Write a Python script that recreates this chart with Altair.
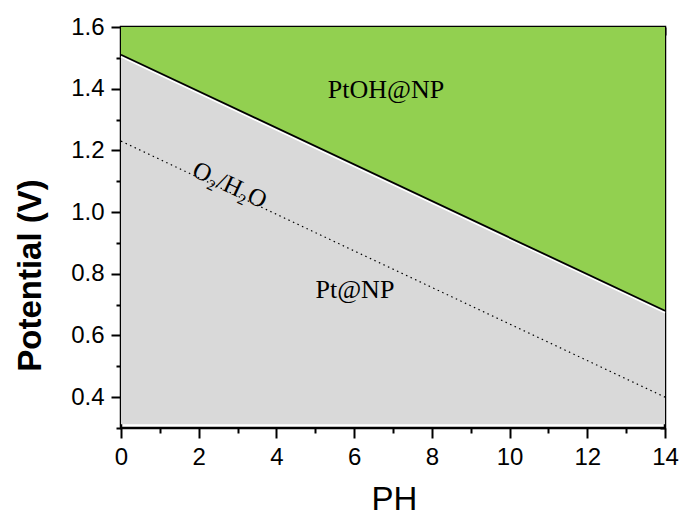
import altair as alt
import pandas as pd

# boundary lines (pH, potential V)
ph = [0, 14]
pt_boundary = [1.51, 0.68]      # PtOH@NP / Pt@NP boundary (solid)
o2_h2o = [1.23, 0.40]           # O2/H2O line (dotted)

labels_txt = ["PtOH@NP", "Pt@NP"]
labels_ph = [6.82, 6.02]
labels_v = [1.37, 0.722]

o2_label = ["O\u2082/H\u2082O"]
o2_ph = [2.8]
o2_v = [1.088]

x_major = [0, 2, 4, 6, 8, 10, 12, 14]
x_minor = [1, 3, 5, 7, 9, 11, 13]
x_all = list(range(0, 15))
y_major = [0.4, 0.6, 0.8, 1.0, 1.2, 1.4, 1.6]
y_minor = [0.3, 0.5, 0.7, 0.9, 1.1, 1.3, 1.5]

Y_MIN, Y_MAX = 0.3, 1.6

df = pd.DataFrame({"ph": ph, "pt": pt_boundary, "o2": o2_h2o,
                   "bottom": [0.312, 0.312], "top": [Y_MAX, Y_MAX]})
df_lab = pd.DataFrame({"t": labels_txt, "ph": labels_ph, "v": labels_v})
df_o2 = pd.DataFrame({"t": o2_label, "ph": o2_ph, "v": o2_v})

xs = alt.Scale(domain=[0, 14], nice=False, zero=False)
ys = alt.Scale(domain=[Y_MIN, Y_MAX], nice=False, zero=False)

def X(field="ph", axis=None):
    return alt.X(f"{field}:Q", scale=xs, axis=axis)

def Y(field, axis=None):
    return alt.Y(f"{field}:Q", scale=ys, axis=axis)

base = alt.Chart(df)

gray = base.mark_area(color="#D9D9D9").encode(x=X(), y=Y("bottom"), y2="pt")
green = base.mark_area(color="#92D050").encode(x=X(), y=Y("pt"), y2="top")
white_edge = base.mark_line(color="white", strokeWidth=1.5, yOffset=2).encode(x=X(), y=Y("pt"))
solid = base.mark_line(color="black", strokeWidth=1.8).encode(x=X(), y=Y("pt"))
dotted = base.mark_line(color="black", strokeWidth=1.2, strokeDash=[1.5, 3.5]).encode(x=X(), y=Y("o2"))

texts = alt.Chart(df_lab).mark_text(font="Liberation Serif", fontSize=26, color="black",
                                    align="center", baseline="alphabetic").encode(
    x=X(), y=Y("v"), text="t:N")
o2 = alt.Chart(df_o2).mark_text(font="Liberation Serif", fontSize=25, color="black",
                                align="center", baseline="middle", angle=25).encode(
    x=X(), y=Y("v"), text="t:N")

common = dict(domain=False, grid=False, tickColor="black", tickWidth=2,
              labelFont="Liberation Sans", labelFontSize=24, labelColor="black")

main_axes = base.mark_point(opacity=0).encode(
    x=X(axis=alt.Axis(orient="bottom", values=x_major, tickSize=10, labelPadding=7,
                      format="d", title="PH", titleFont="Liberation Sans",
                      titleFontSize=33, titleFontWeight="normal", titleColor="black",
                      titleX=273, titleY=81, titleBaseline="alphabetic",
                      titleAlign="center", labelFlush=False, labelOverlap=False, **common)),
    y=Y("pt", axis=alt.Axis(orient="left", values=y_major, tickSize=10, labelPadding=7,
                            format=".1f", title="Potential (V)", titleFont="Liberation Sans",
                            titleFontSize=33, titleFontWeight="bold", titleColor="black",
                            titleX=-80.5, titleY=248, titleBaseline="alphabetic",
                            titleAlign="center", titleAngle=270, labelFlush=False,
                            labelOverlap=False, **common)),
)

minor_axes = base.mark_point(opacity=0).encode(
    x=X(axis=alt.Axis(orient="bottom", values=x_minor, tickSize=5, labels=False,
                      title=None, **common)),
    y=Y("pt", axis=alt.Axis(orient="left", values=y_minor, tickSize=5, labels=False,
                            title=None, **common)),
)

top_right_major = base.mark_point(opacity=0).encode(
    x=X(axis=alt.Axis(orient="top", values=x_all, tickSize=8, offset=-8, labels=False,
                      title=None, **common)),
    y=Y("pt", axis=alt.Axis(orient="right", values=y_major, tickSize=10, offset=-10,
                            labels=False, title=None, **common)),
)

right_minor = base.mark_point(opacity=0).encode(
    x=X(axis=None),
    y=Y("pt", axis=alt.Axis(orient="right", values=y_minor, tickSize=5, offset=-5,
                            labels=False, title=None, **common)),
)

chart = alt.layer(
    gray, green, white_edge, solid, dotted, texts, o2,
    main_axes, minor_axes, top_right_major, right_minor
).resolve_axis(x="independent", y="independent").properties(
    width=544, height=401,
    autosize=alt.AutoSizeParams(type="none"),
    padding={"left": 121, "top": 27, "right": 19, "bottom": 87},
    background="white",
).configure_view(stroke="black", strokeWidth=2.5)

chart.save("out.html", embed_options={"renderer": "svg", "actions": False})
